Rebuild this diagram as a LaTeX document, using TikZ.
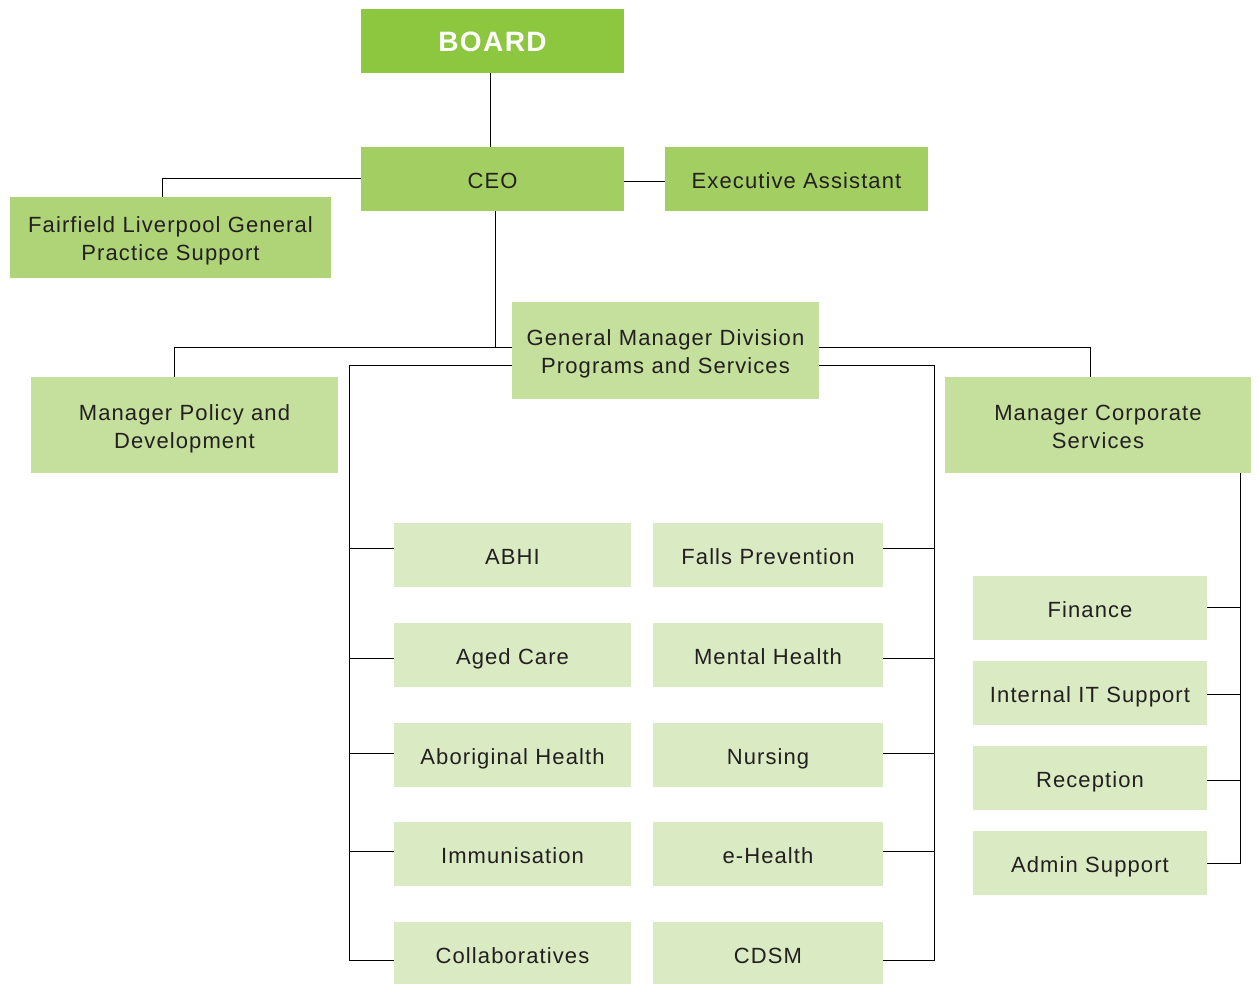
\documentclass[tikz,border=0pt]{standalone}
\usepackage{fontspec}
\setmainfont{Liberation Sans}[LetterSpace=5]
\usetikzlibrary{backgrounds}
\definecolor{boardgreen}{HTML}{8DC63F}
\definecolor{topgreen}{HTML}{A3CF62}
\definecolor{sidegreen}{HTML}{AED477}
\definecolor{midgreen}{HTML}{C5DF9C}
\definecolor{leafgreen}{HTML}{DAEAC2}
\definecolor{ink}{HTML}{231F20}
\definecolor{wire}{HTML}{2B2B2B}
\begin{document}
\begin{tikzpicture}[x=1pt,y=-1pt,
  box/.style={rectangle, inner sep=0pt, outer sep=0pt, text=ink,
    font=\fontsize{22}{28}\selectfont, align=center,
    text height=18.8pt, text depth=0pt},
  twoline/.style={text depth=28pt},
  wirestyle/.style={draw=wire, line width=1.5pt},
]
\useasboundingbox (0,0) rectangle (1259,984);

% fixed points of the bus lines
\coordinate (busL) at (174,347);
\coordinate (busR) at (1090,347);
\coordinate (inL) at (349,365);
\coordinate (inR) at (934,365);
\coordinate (corpx) at (1240,0);

% top level
\node[box, fill=boardgreen, minimum width=263pt, minimum height=64pt,
      text=white, font=\fontsize{28}{32}\selectfont\bfseries, text height=21.5pt,
      text width=259pt] (board) at (492.5,41) {BOARD};
\node[box, fill=topgreen, minimum width=263pt, minimum height=64pt, text width=259pt]
      (ceo) at (492.5,179) {CEO};
\node[box, fill=topgreen, minimum width=263pt, minimum height=64pt, text width=259pt]
      (exec) at (796.5,179) {Executive Assistant};
\node[box, twoline, fill=sidegreen, minimum width=321pt, minimum height=81pt, text width=317pt]
      (fair) at (170.5,237.5) {Fairfield Liverpool General\\Practice Support};

% second level
\node[box, twoline, fill=midgreen, minimum width=307pt, minimum height=97pt, text width=303pt]
      (gm) at (665.5,350.5) {General Manager Division\\Programs and Services};
\node[box, twoline, fill=midgreen, minimum width=307pt, minimum height=96pt, text width=303pt]
      (pol) at (184.5,425) {Manager Policy and\\Development};
\node[box, twoline, fill=midgreen, minimum width=306pt, minimum height=96pt, text width=302pt]
      (corp) at (1098,425) {Manager Corporate\\Services};

% programs, left column
\foreach \nm/\cy/\txt in {abhi/555/ABHI, aged/655/Aged Care, abor/755/Aboriginal Health,
                          immu/854/Immunisation, coll/954/Collaboratives}
  \node[box, fill=leafgreen, minimum width=237pt, minimum height=64pt, text width=233pt]
    (\nm) at (512.5,\cy) {\txt};
% programs, right column
\foreach \nm/\cy/\txt in {falls/555/Falls Prevention, ment/655/Mental Health, nurs/755/Nursing,
                          ehea/854/e-Health, cdsm/954/CDSM}
  \node[box, fill=leafgreen, minimum width=230pt, minimum height=64pt, text width=226pt]
    (\nm) at (768,\cy) {\txt};
% corporate services
\foreach \nm/\cy/\txt in {fin/608/Finance, itsup/693/Internal IT Support,
                          recep/778/Reception, admin/863/Admin Support}
  \node[box, fill=leafgreen, minimum width=234pt, minimum height=64pt, text width=230pt]
    (\nm) at (1090,\cy) {\txt};

% connectors, behind the boxes
\begin{scope}[on background layer, wirestyle]
  \draw ([xshift=-2.5pt]board.south) -- ([xshift=-2.5pt]ceo.north);
  \draw ([yshift=-2pt]ceo.east) -- ([yshift=-2pt]exec.west);
  \draw ([yshift=1pt]ceo.west) -| ([xshift=-8.5pt]fair.north);
  \draw ([xshift=2.5pt]ceo.south) -- ([xshift=2.5pt]ceo.south |- busL);
  \draw (pol.north -| busL) -- (busL) -- (busR) -- (corp.north -| busR);
  % programs bus
  \draw (gm.west |- inL) -- (inL) -- ([yshift=-6pt]coll.west -| inL) -- ([yshift=-6pt]coll.west);
  \draw (gm.east |- inR) -- (inR) -- ([yshift=-6pt]cdsm.east -| inR) -- ([yshift=-6pt]cdsm.east);
  \foreach \nm/\dy in {abhi/7, aged/-3, abor/2, immu/3}
    \draw ([yshift=\dy pt]\nm.west) -- ([yshift=\dy pt]\nm.west -| inL);
  \foreach \nm/\dy in {falls/7, ment/-3, nurs/2, ehea/3}
    \draw ([yshift=\dy pt]\nm.east) -- ([yshift=\dy pt]\nm.east -| inR);
  % corporate services bus
  \draw (corp.south -| corpx) -- (admin.east -| corpx) -- (admin.east);
  \foreach \nm/\dy in {fin/1, itsup/-1, recep/-2}
    \draw ([yshift=\dy pt]\nm.east) -- ([yshift=\dy pt]\nm.east -| corpx);
\end{scope}
\end{tikzpicture}
\end{document}
